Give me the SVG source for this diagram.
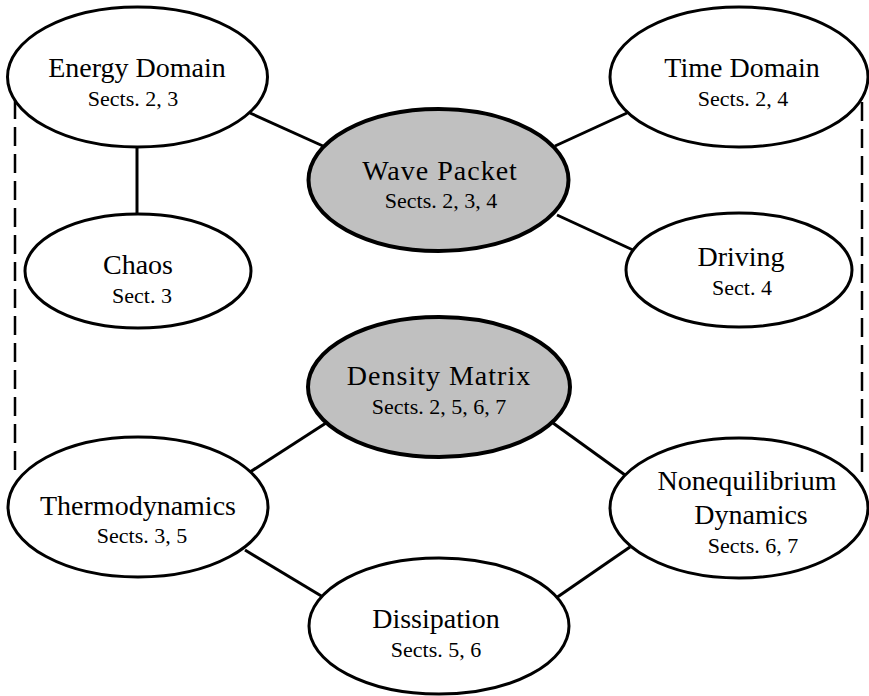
<svg xmlns="http://www.w3.org/2000/svg" width="869" height="696" viewBox="0 0 869 696">
<style>
.node ellipse{fill:#fff;stroke:#000;stroke-width:3}
.node.hl ellipse{fill:#c0c0c0;stroke-width:4}
.t{font-family:"Liberation Serif","Times New Roman",serif;font-size:28px;fill:#000;text-anchor:middle}
.s{font-family:"Liberation Serif","Times New Roman",serif;font-size:22px;fill:#000;text-anchor:middle}
.hl .t{letter-spacing:1px}
#connectors line{stroke:#000;stroke-width:3}
#connectors line.d{stroke-width:2.5;stroke-dasharray:19 8}
</style>
<rect width="869" height="696" fill="#fff"/>
<g id="connectors">
<line class="d" x1="15" y1="100" x2="15" y2="478"/>
<line class="d" x1="862" y1="102" x2="862" y2="474"/>
<line x1="137" y1="147" x2="137" y2="214"/>
<line x1="250" y1="113" x2="323" y2="146"/>
<line x1="627" y1="113" x2="555" y2="146"/>
<line x1="557" y1="215" x2="633" y2="250"/>
<line x1="250" y1="472" x2="326" y2="423"/>
<line x1="553" y1="423" x2="625" y2="475"/>
<line x1="245" y1="550" x2="323" y2="597"/>
<line x1="556" y1="598" x2="630" y2="547"/>
</g>
<g id="energy" class="node"><ellipse cx="137.5" cy="77" rx="130" ry="70"/><text class="t" x="137" y="77">Energy Domain</text><text class="s" x="133" y="106">Sects. 2, 3</text></g>
<g id="time" class="node"><ellipse cx="739" cy="77" rx="129" ry="70"/><text class="t" x="742" y="77">Time Domain</text><text class="s" x="743" y="106">Sects. 2, 4</text></g>
<g id="wave" class="node hl"><ellipse cx="438.5" cy="180" rx="130" ry="71"/><text class="t" x="440" y="180">Wave Packet</text><text class="s" x="441" y="208">Sects. 2, 3, 4</text></g>
<g id="chaos" class="node"><ellipse cx="138" cy="271" rx="113" ry="57"/><text class="t" x="138" y="274">Chaos</text><text class="s" x="142" y="303">Sect. 3</text></g>
<g id="driving" class="node"><ellipse cx="739" cy="270" rx="113" ry="57"/><text class="t" x="741" y="266">Driving</text><text class="s" x="742" y="295">Sect. 4</text></g>
<g id="density" class="node hl"><ellipse cx="439" cy="387" rx="131" ry="70"/><text class="t" x="439" y="385">Density Matrix</text><text class="s" x="439" y="414">Sects. 2, 5, 6, 7</text></g>
<g id="thermo" class="node"><ellipse cx="138" cy="507" rx="130" ry="70"/><text class="t" x="138" y="515">Thermodynamics</text><text class="s" x="142" y="543">Sects. 3, 5</text></g>
<g id="noneq" class="node"><ellipse cx="739" cy="508" rx="129" ry="70"/><text class="t" x="747" y="490">Nonequilibrium</text><text class="t" x="751" y="524">Dynamics</text><text class="s" x="753" y="553">Sects. 6, 7</text></g>
<g id="dissipation" class="node"><ellipse cx="439" cy="626" rx="130" ry="68"/><text class="t" x="436" y="628">Dissipation</text><text class="s" x="436" y="657">Sects. 5, 6</text></g>
</svg>
